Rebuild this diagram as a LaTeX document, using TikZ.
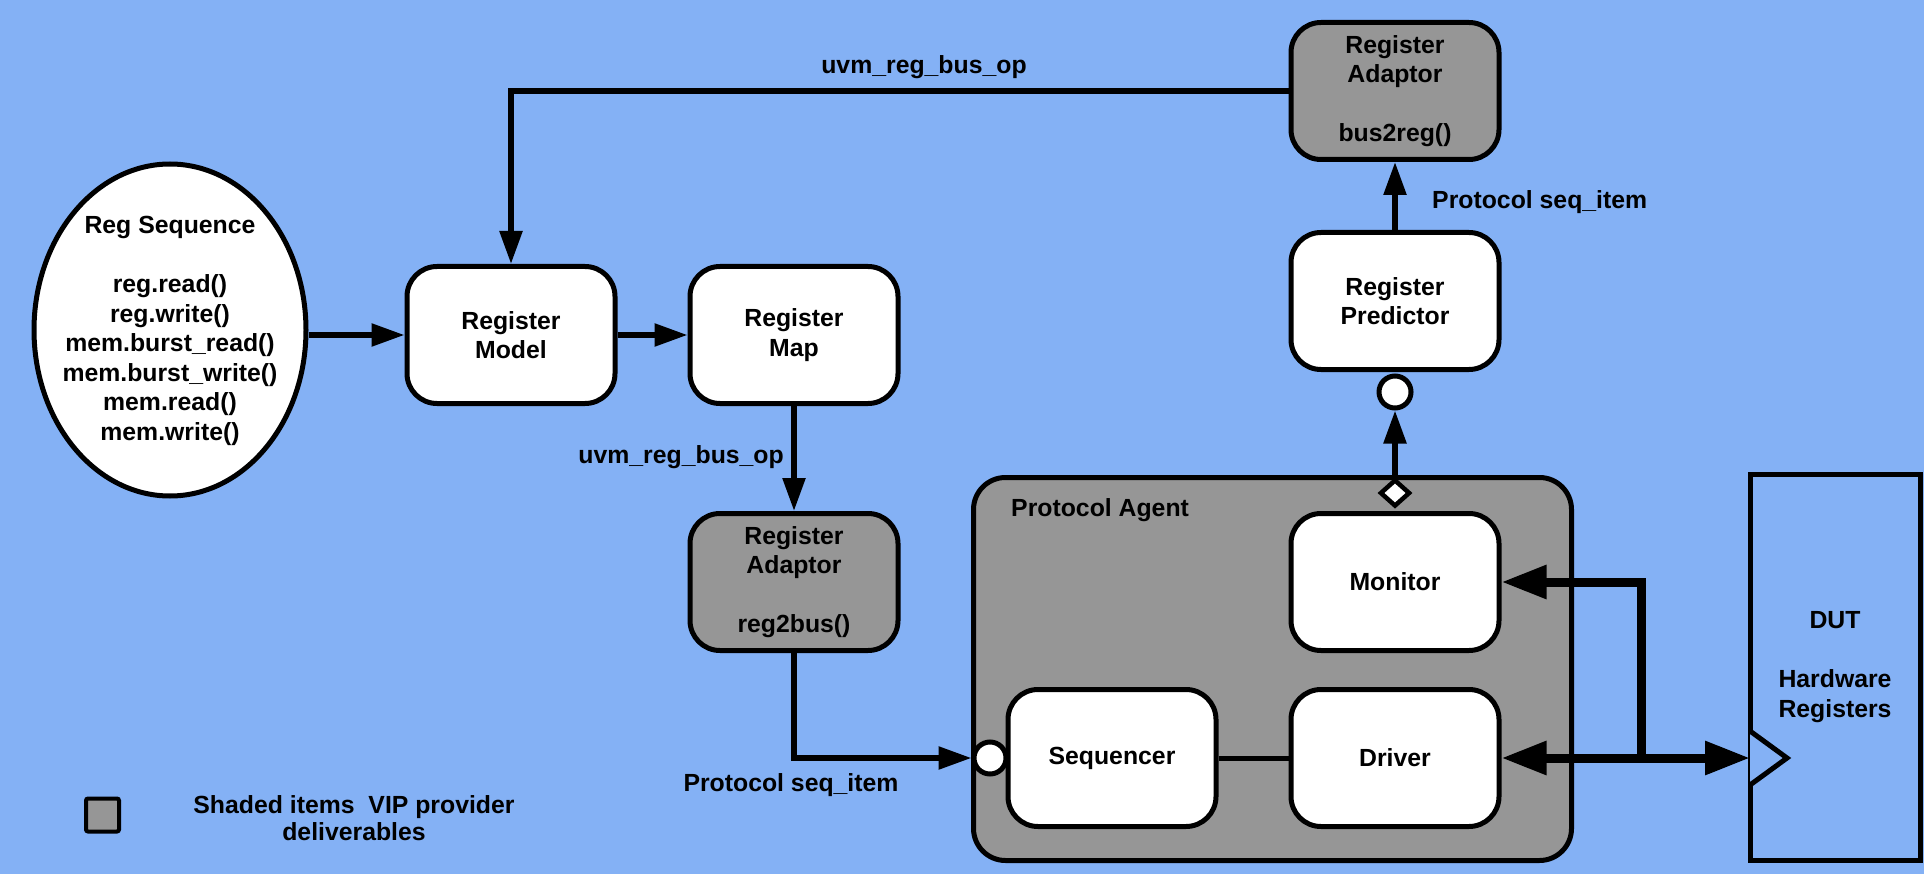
\documentclass[tikz,border=0pt]{standalone}
\usepackage{fontspec}
\setmainfont{Liberation Sans}
\usetikzlibrary{arrows.meta,shapes.geometric}
\definecolor{bg}{RGB}{132,177,245}
\definecolor{shade}{RGB}{150,150,150}
\tikzset{bigtip/.tip={Triangle[length=45pt,width=32pt]}, smalltip/.tip={Triangle[length=33pt,width=22pt]}}
\begin{document}
\begin{tikzpicture}[x=1pt,y=-1pt,
  every node/.style={font=\fontsize{24.8}{29.5}\selectfont\bfseries, text=black},
  box/.style={draw, line width=5pt, rounded corners=30pt, fill=white, minimum width=208pt, minimum height=137pt, align=center, inner sep=0pt},
  sbox/.style={box, fill=shade},
  conn/.style={line width=5.5pt, -smalltip},
  bus/.style={line width=9pt},
  lbl/.style={inner sep=0pt},
  port/.style={circle, draw, line width=5pt, fill=white, minimum size=32pt, inner sep=0pt},
]
\fill[bg] (0,0) rectangle (1924,874);
\useasboundingbox (0,0) rectangle (1924,874);

% reg sequence
\node[ellipse, draw, line width=5pt, fill=white, minimum width=272pt, minimum height=332pt, inner sep=0pt] (rs) at (170,330) {};
\node[align=center, inner sep=0pt] (rst) at (170,331) {Reg Sequence\\[29.5pt]reg.read()\\reg.write()\\mem.burst\_read()\\mem.burst\_write()\\mem.read()\\mem.write()};

% boxes
\node[box] (model) at (511,335) {Register\\Model};
\node[box] (map) at (794,335) {Register\\Map};
\node[sbox] (adb) at (794,582) {Register\\Adaptor\\[29.5pt]reg2bus()};
\node[sbox] (adt) at (1395,91) {Register\\Adaptor\\[29.5pt]bus2reg()};
\node[box] (pred) at (1395,301) {Register\\Predictor};

% protocol agent
\node[sbox, rounded corners=32pt, minimum width=598pt, minimum height=383pt] (agent) at (1272.5,669) {};
\node[lbl, anchor=west] (agentl) at (1011,510) {Protocol Agent};
\node[box] (mon) at (1395,582) {Monitor};
\node[box] (drv) at (1395,758) {Driver};
\node[box] (sqr) at (1112,758) {Sequencer};
\node[port] (sc) at (990,758) {};
\node[port] (pc) at (1395,392) {};
\node[diamond, draw, line width=4.5pt, fill=white, minimum width=30pt, minimum height=27pt, inner sep=0pt] (dm) at (1395,493) {};

% DUT
\node[draw, line width=5pt, minimum width=170pt, minimum height=386pt, inner sep=0pt, align=center] (dut) at (1835,667) {DUT\\[29.5pt]Hardware\\Registers};
\draw[line width=5pt, fill=bg, line join=miter] (1750,731) -- (1787,758) -- (1750,785);
\coordinate (dutin) at (1750,758);
\coordinate (jn) at (1641,758);

% connectors
\draw[conn] (rs.east |- model.west) -- (model.west);
\draw[conn] (model) -- (map);
\draw[conn] (map.south) -- (adb.north);
\draw[conn] (adb.south) |- (sc.west);
\draw[conn] (adt.west) -| (model.north);
\draw[conn] (pred) -- (adt);
\draw[conn] (dm.north) -- (pc.south);
\draw[line width=5pt] (sqr) -- (drv);
\draw[bus, bigtip-bigtip] (drv.east) -- (dutin);
\draw[bus, -bigtip] (jn) |- (mon.east);

% labels
\node[lbl] (l1) at (924,67) {uvm\_reg\_bus\_op};
\node[lbl, anchor=west] (l2) at (1432,202) {Protocol seq\_item};
\node[lbl, anchor=east] (l3) at (784,457) {uvm\_reg\_bus\_op};
\node[lbl] (l4) at (791,785) {Protocol seq\_item};

% legend
\node[draw, line width=4pt, fill=shade, minimum size=33pt, inner sep=0pt, rounded corners=2pt] (leg) at (102.5,815) {};
\node[align=center, inner sep=0pt, font=\fontsize{24.8}{27}\selectfont\bfseries] (legt) at (354,818) {Shaded items~ VIP provider\\deliverables};
\end{tikzpicture}
\end{document}
